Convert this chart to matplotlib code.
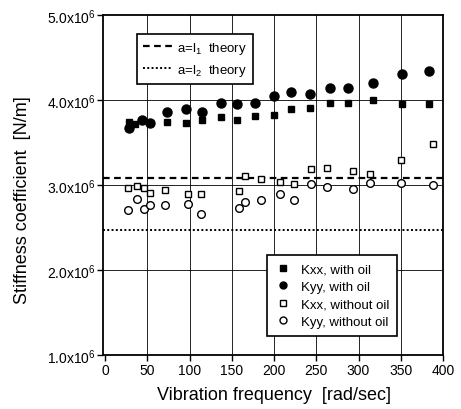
import matplotlib
matplotlib.use("Agg")
import matplotlib.pyplot as plt
from matplotlib.ticker import FuncFormatter
from matplotlib.lines import Line2D

plt.rcParams['font.family'] = ['Liberation Sans', 'DejaVu Sans']
plt.rcParams['mathtext.fontset'] = 'custom'
plt.rcParams['mathtext.rm'] = 'Liberation Sans'
plt.rcParams['mathtext.it'] = 'Liberation Sans'

# with oil
kxx_oil_x = [28, 35.5, 53, 73, 96, 115, 137, 156, 177, 200, 220, 243, 266, 288, 317, 352, 383]
kxx_oil_y = [3.74, 3.72, 3.73, 3.74, 3.73, 3.77, 3.80, 3.77, 3.81, 3.82, 3.89, 3.91, 3.96, 3.96, 4.00, 3.95, 3.95]
kyy_oil_x = [28, 43.5, 53, 73, 96, 115, 137, 156, 177, 200, 220, 243, 266, 288, 317, 352, 383]
kyy_oil_y = [3.67, 3.76, 3.73, 3.855, 3.90, 3.855, 3.97, 3.95, 3.97, 4.05, 4.10, 4.07, 4.14, 4.14, 4.20, 4.31, 4.34]
# without oil
kxx_dry_x = [27, 38, 46, 53, 71, 98, 114, 158, 166, 184, 207, 224, 244, 263, 293, 313, 350, 388]
kxx_dry_y = [2.965, 2.99, 2.965, 2.91, 2.94, 2.90, 2.90, 2.93, 3.11, 3.07, 3.04, 3.01, 3.19, 3.20, 3.16, 3.13, 3.29, 3.48]
kyy_dry_x = [27, 38, 46, 53, 71, 98, 114, 158, 166, 184, 207, 224, 244, 263, 293, 313, 350, 388]
kyy_dry_y = [2.71, 2.83, 2.72, 2.77, 2.77, 2.78, 2.66, 2.73, 2.80, 2.82, 2.90, 2.82, 3.01, 2.98, 2.95, 3.02, 3.02, 3.00]
# theory
theory_l1 = 3.08
theory_l2 = 2.47
scale = 1e6

fig = plt.figure(figsize=(4.61, 4.10), dpi=100)
ax = fig.add_axes([103/461, 1-356/410, 340/461, 340/410])

ax.set_xlim(-2.5, 400)
ax.set_ylim(1.0e6, 5.0e6)
ax.set_xticks([0, 50, 100, 150, 200, 250, 300, 350, 400])
ax.set_yticks([1e6, 2e6, 3e6, 4e6, 5e6])

def yfmt(v, pos):
    return r'$\mathregular{%.1fx10^6}$' % (v / 1e6)
ax.yaxis.set_major_formatter(FuncFormatter(yfmt))

for xv in [50, 100, 150, 200, 250, 300, 350]:
    ax.axvline(xv, color='black', lw=0.6, zorder=0)
for yv in [2e6, 3e6, 4e6]:
    ax.axhline(yv, color='black', lw=0.6, zorder=0)

l1, = ax.plot([-2.5, 400], [theory_l1 * scale] * 2, color='black', ls=(0, (3, 2)), lw=1.6)
l2, = ax.plot([-2.5, 400], [theory_l2 * scale] * 2, color='black', ls=(0, (1, 1.2)), lw=1.4)

ax.plot(kxx_oil_x, [v * scale for v in kxx_oil_y], 's', color='black', ms=5, ls='none', zorder=3)
ax.plot(kyy_oil_x, [v * scale for v in kyy_oil_y], 'o', color='black', ms=6.5, ls='none', zorder=3)
ax.plot(kxx_dry_x, [v * scale for v in kxx_dry_y], 's', mfc='white', mec='black', mew=1.0, ms=4.8, ls='none', zorder=3)
ax.plot(kyy_dry_x, [v * scale for v in kyy_dry_y], 'o', mfc='white', mec='black', mew=1.0, ms=5.5, ls='none', zorder=3)

for s in ax.spines.values():
    s.set_linewidth(1.3)
ax.tick_params(direction='out', length=4, width=1, labelsize=10, pad=1.5)

ax.set_xlabel('Vibration frequency  [rad/sec]', fontsize=13)
ax.set_ylabel('Stiffness coefficient  [N/m]', fontsize=13)
ax.xaxis.label.set_va('center')
ax.yaxis.label.set_va('center')
ax.xaxis.set_label_coords(0.504, -0.115)
ax.yaxis.set_label_coords(-0.238, 0.459)

leg1 = ax.legend([l1, l2], [r'a=l$_1$  theory', r'a=l$_2$  theory'],
                 loc='upper left', bbox_to_anchor=(0.10, 0.944), borderaxespad=0, fontsize=9.5,
                 frameon=True, fancybox=False, edgecolor='black', framealpha=1,
                 handlelength=2.2, handletextpad=0.4, borderpad=0.45, labelspacing=0.45)
leg1.get_frame().set_linewidth(1.2)
ax.add_artist(leg1)

h = [Line2D([], [], marker='s', color='black', ms=4.5, ls='none'),
     Line2D([], [], marker='o', color='black', ms=5, ls='none'),
     Line2D([], [], marker='s', mfc='white', mec='black', ms=4.5, ls='none'),
     Line2D([], [], marker='o', mfc='white', mec='black', ms=5, ls='none')]
leg2 = ax.legend(h, ['Kxx, with oil', 'Kyy, with oil', 'Kxx, without oil', 'Kyy, without oil'],
                 loc='upper left', bbox_to_anchor=(0.482, 0.294), borderaxespad=0, fontsize=9.5,
                 frameon=True, fancybox=False, edgecolor='black', framealpha=1,
                 handlelength=1.2, handletextpad=0.7, borderpad=0.65, labelspacing=0.38)
leg2.get_frame().set_linewidth(1.2)

fig.savefig('out.png', dpi=100)
